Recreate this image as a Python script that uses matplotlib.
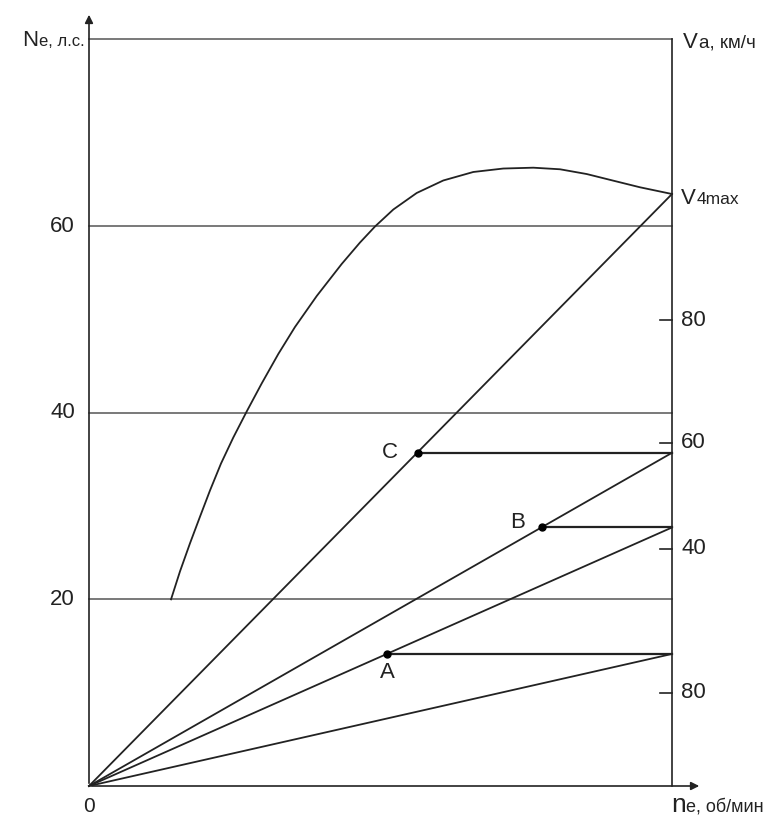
import numpy as np
import matplotlib
matplotlib.use('Agg')
import matplotlib.pyplot as plt

plt.rcParams['font.family'] = ['Liberation Sans', 'DejaVu Sans']

# engine power curve: relative engine speed vs Ne (hp)
curve_n = [0.1407, 0.1561, 0.1732, 0.1904, 0.2075, 0.2264, 0.2475, 0.2705, 0.2962,
           0.3247, 0.3533, 0.3906, 0.4334, 0.4648, 0.4906, 0.5220, 0.5621, 0.6077,
           0.6592, 0.7106, 0.7621, 0.8079, 0.8537, 0.8993, 0.9451, 1.0]
curve_ne = [20.0, 23.0, 26.0, 28.86, 31.66, 34.55, 37.34, 40.13, 43.13,
            46.29, 49.18, 52.5, 55.93, 58.23, 59.95, 61.77, 63.54, 64.88,
            65.79, 66.16, 66.25, 66.08, 65.57, 64.86, 64.15, 63.43]

grid_levels = [20, 40, 60, 80]
left_labels = ['20', '40', '60']

# speed rays from origin end on the right axis at these levels
ray_ends = [14.15, 27.7, 35.7, 63.43]

# gear change points
pt_names = ['A', 'B', 'C']
pt_n = [0.5106, 0.777, 0.5638]
pt_ne = [14.15, 27.7, 35.7]

# right axis speed ticks (position in Ne units, label)
right_tick_pos = [49.9, 36.8, 25.4, 10.0]
right_tick_lab = ['80', '60', '40', '80']

W, H = 771, 816
X0, XR = 89, 672
Y0, PPU = 786, 9.333

def tx(px):
    return (px - X0) / (XR - X0)

def ty(py):
    return (Y0 - py) / PPU

fig = plt.figure(figsize=(W / 100, H / 100), dpi=100)
ax = fig.add_axes([0, 0, 1, 1])
ax.set_xlim(tx(0), tx(W))
ax.set_ylim(ty(H), ty(0))
ax.axis('off')

dark = '#222222'
gray = '#555555'

# horizontal grid
for g in grid_levels:
    ax.plot([0, 1], [g, g], color=gray, lw=1.1)

# left labels
for g, lab in zip(grid_levels[:3], left_labels):
    ax.text(tx(75), g, lab, ha='right', va='center', fontsize=16, color=dark)

# axes with arrows
ax.annotate('', xy=(0, ty(12)), xytext=(0, 0),
            arrowprops=dict(arrowstyle='-|>', color=dark, lw=1.2, mutation_scale=12))
ax.annotate('', xy=(tx(702), 0), xytext=(0, 0),
            arrowprops=dict(arrowstyle='-|>', color=dark, lw=1.2, mutation_scale=12))
ax.plot([1, 1], [0, 80], color=dark, lw=1.2)

# right ticks
for p, lab in zip(right_tick_pos, right_tick_lab):
    ax.plot([tx(660), 1], [p, p], color=dark, lw=1.2)
    ax.text(tx(681), p, lab, ha='left', va='center', fontsize=16, color=dark)

# power curve
ax.plot(curve_n, curve_ne, color=dark, lw=1.3, solid_joinstyle='round')

# rays
for e in ray_ends:
    ax.plot([0, 1], [0, e], color=dark, lw=1.3)

# points with horizontal lines
for name, n, v in zip(pt_names, pt_n, pt_ne):
    ax.plot([n, 1], [v, v], color=dark, lw=1.6)
    ax.plot(n, v, 'o', color='black', ms=5)

ax.text(tx(390), ty(453), 'C', ha='center', va='center', fontsize=16, color=dark)
ax.text(tx(518), ty(523), 'B', ha='center', va='center', fontsize=16, color=dark)
ax.text(tx(387), ty(673), 'A', ha='center', va='center', fontsize=16, color=dark)

renderer = fig.canvas.get_renderer()

def two_part(px, py, big, small, bsize=16, ssize=11, gap=1):
    t = ax.text(tx(px), ty(py), big, ha='left', va='baseline', fontsize=bsize, color=dark)
    bb = t.get_window_extent(renderer)
    x1 = ax.transData.inverted().transform((bb.x1 + gap, 0))[0]
    ax.text(x1, ty(py), small, ha='left', va='baseline', fontsize=ssize, color=dark)

# axis titles
two_part(22, 46, 'N', 'e, л.с.', ssize=12)
two_part(683, 48, 'V', 'a, км/ч', ssize=13.5)
two_part(681, 204, 'V', '4max', ssize=12.5)
two_part(671, 812, 'n', 'e, об/мин', bsize=19, ssize=13, gap=0)
ax.text(0, ty(806), '0', ha='center', va='center', fontsize=15, color=dark)

plt.savefig('out.png', dpi=100, facecolor='white')
